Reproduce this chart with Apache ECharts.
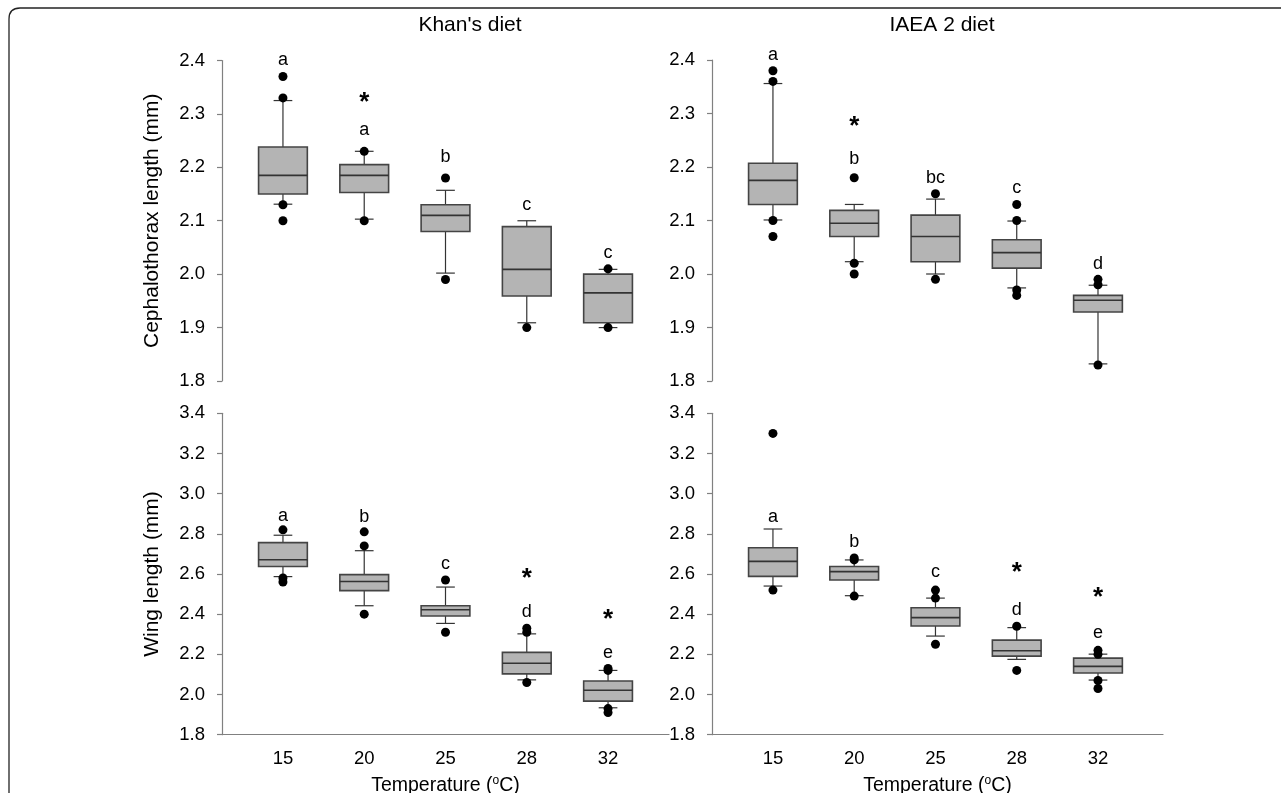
<!DOCTYPE html>
<html>
<head>
<meta charset="utf-8">
<script src="https://cdn.jsdelivr.net/npm/echarts@6/dist/echarts.min.js"></script>
<style>
html,body{margin:0;padding:0;background:#fff;}
#chart{width:1281px;height:793px;}
</style>
</head>
<body>
<div id="chart"></div>
<script>
// Temperature categories
const temps = ['15', '20', '25', '28', '32'];
const dietTitles = ["Khan's diet", 'IAEA 2 diet'];

// Box statistics: [low whisker, Q1, median, Q3, high whisker]
const khanCeph = [
  [2.131, 2.150, 2.185, 2.238, 2.325],
  [2.103, 2.153, 2.185, 2.205, 2.230],
  [2.002, 2.080, 2.110, 2.130, 2.157],
  [1.909, 1.959, 2.009, 2.089, 2.100],
  [1.900, 1.909, 1.965, 2.000, 2.009]
];
const khanCephOut = [[2.37, 2.33, 2.13, 2.10], [2.23, 2.10], [2.18, 1.99], [1.90], [2.01, 1.90]];
const khanCephLetters = ['a', 'a', 'b', 'c', 'c'];
const khanCephLetterY = [2.40, 2.27, 2.22, 2.13, 2.04];
const khanCephStarY = [null, 2.331, null, null, null];

const iaeaCeph = [
  [2.101, 2.130, 2.175, 2.207, 2.356],
  [2.023, 2.070, 2.095, 2.119, 2.130],
  [2.000, 2.023, 2.070, 2.110, 2.140],
  [1.974, 2.011, 2.040, 2.064, 2.099],
  [1.832, 1.929, 1.951, 1.960, 1.979]
];
const iaeaCephOut = [[2.38, 2.36, 2.10, 2.07], [2.18, 2.02, 2.00], [2.15, 1.99], [2.13, 2.10, 1.97, 1.96], [1.99, 1.98, 1.83]];
const iaeaCephLetters = ['a', 'b', 'bc', 'c', 'd'];
const iaeaCephLetterY = [2.41, 2.215, 2.18, 2.16, 2.018];
const iaeaCephStarY = [null, 2.284, null, null, null];

const khanWing = [
  [2.587, 2.637, 2.671, 2.756, 2.793],
  [2.442, 2.517, 2.563, 2.597, 2.716],
  [2.354, 2.391, 2.422, 2.442, 2.535],
  [2.073, 2.103, 2.156, 2.210, 2.302],
  [1.934, 1.967, 2.021, 2.067, 2.120]
];
const khanWingOut = [[2.82, 2.58, 2.56], [2.81, 2.74, 2.40], [2.57, 2.31], [2.33, 2.31, 2.06], [2.13, 2.12, 1.93, 1.91]];
const khanWingLetters = ['a', 'b', 'c', 'd', 'e'];
const khanWingLetterY = [2.89, 2.885, 2.648, 2.412, 2.208];
const khanWingStarY = [null, null, null, 2.603, 2.396];

const iaeaWing = [
  [2.540, 2.588, 2.663, 2.731, 2.824],
  [2.492, 2.570, 2.612, 2.637, 2.670],
  [2.291, 2.341, 2.383, 2.432, 2.480],
  [2.175, 2.191, 2.218, 2.271, 2.333],
  [2.072, 2.107, 2.140, 2.181, 2.201]
];
const iaeaWingOut = [[3.30, 2.52], [2.68, 2.67, 2.49], [2.52, 2.48, 2.25], [2.34, 2.12], [2.22, 2.20, 2.07, 2.03]];
const iaeaWingLetters = ['a', 'b', 'c', 'd', 'e'];
const iaeaWingLetterY = [2.885, 2.761, 2.61, 2.42, 2.304];
const iaeaWingStarY = [null, null, null, 2.631, 2.504];

// Y-axis tick ranges
const cephTicks = { min: 1.8, max: 2.4, step: 0.1 };
const wingTicks = { min: 1.8, max: 3.4, step: 0.2 };

const FONT = 'Liberation Sans, Arial, sans-serif';

const panels = [
  { box: khanCeph, out: khanCephOut, letters: khanCephLetters, letterY: khanCephLetterY, starY: khanCephStarY, ticks: cephTicks, name: 'Cephalothorax length (mm)', bottom: false, xmax: 4.75 },
  { box: iaeaCeph, out: iaeaCephOut, letters: iaeaCephLetters, letterY: iaeaCephLetterY, starY: iaeaCephStarY, ticks: cephTicks, name: '', bottom: false, xmax: 4.8 },
  { box: khanWing, out: khanWingOut, letters: khanWingLetters, letterY: khanWingLetterY, starY: khanWingStarY, ticks: wingTicks, name: 'Wing length (mm)', bottom: true, xmax: 4.75 },
  { box: iaeaWing, out: iaeaWingOut, letters: iaeaWingLetters, letterY: iaeaWingLetterY, starY: iaeaWingStarY, ticks: wingTicks, name: '', bottom: true, xmax: 4.8 }
];

const grids = [
  { left: 222, top: 60.5, width: 447, height: 320.5, outerBoundsMode: 'none', containLabel: false },
  { left: 712, top: 60, width: 451, height: 321, outerBoundsMode: 'none', containLabel: false },
  { left: 222, top: 413.3, width: 447, height: 321.4, outerBoundsMode: 'none', containLabel: false },
  { left: 712, top: 413.3, width: 451, height: 321.4, outerBoundsMode: 'none', containLabel: false }
];

function renderBox(params, api) {
  const x = api.value(0);
  const low = api.coord([x, api.value(1)]);
  const q1 = api.coord([x, api.value(2)]);
  const med = api.coord([x, api.value(3)]);
  const q3 = api.coord([x, api.value(4)]);
  const high = api.coord([x, api.value(5)]);
  const bw = api.size([0.6, 0])[0];
  const cw = api.size([0.23, 0])[0];
  const cx = low[0];
  const ls = { stroke: '#333', lineWidth: 1.2 };
  return {
    type: 'group',
    children: [
      { type: 'line', shape: { x1: cx, y1: q3[1], x2: cx, y2: high[1] }, style: ls },
      { type: 'line', shape: { x1: cx, y1: q1[1], x2: cx, y2: low[1] }, style: ls },
      { type: 'line', shape: { x1: cx - cw / 2, y1: high[1], x2: cx + cw / 2, y2: high[1] }, style: ls },
      { type: 'line', shape: { x1: cx - cw / 2, y1: low[1], x2: cx + cw / 2, y2: low[1] }, style: ls },
      { type: 'rect', shape: { x: cx - bw / 2, y: q3[1], width: bw, height: q1[1] - q3[1] },
        style: { fill: '#b4b4b4', stroke: '#444', lineWidth: 1.6 } },
      { type: 'line', shape: { x1: cx - bw / 2, y1: med[1], x2: cx + bw / 2, y2: med[1] },
        style: { stroke: '#333', lineWidth: 1.6 } }
    ]
  };
}

const xAxes = [], yAxes = [], series = [];
panels.forEach((p, i) => {
  xAxes.push({
    type: 'value', gridIndex: i, min: -0.75, max: p.xmax,
    show: p.bottom,
    axisLine: { show: true, onZero: false, lineStyle: { color: '#808080', width: 1.2 } },
    axisTick: { show: false },
    splitLine: { show: false },
    axisLabel: {
      show: true, customValues: [0, 1, 2, 3, 4],
      formatter: v => temps[Math.round(v)] || '',
      color: '#000', fontSize: 18.5, fontFamily: FONT, margin: 15
    },
    name: 'Temperature ({s|o}C)', nameLocation: 'middle', nameGap: 40,
    nameTextStyle: { color: '#000', fontSize: 19.5, fontFamily: FONT,
      rich: { s: { fontSize: 12, verticalAlign: 'top', padding: [0, 0, 10, 0], color: '#000', fontFamily: FONT } } }
  });
  yAxes.push({
    type: 'value', gridIndex: i, min: p.ticks.min, max: p.ticks.max, interval: p.ticks.step,
    axisLine: { show: true, onZero: false, lineStyle: { color: '#808080', width: 1.2 } },
    axisTick: { show: true, length: 5, lineStyle: { color: '#808080', width: 1.2 } },
    splitLine: { show: false },
    axisLabel: { color: '#000', fontSize: 18.5, fontFamily: FONT, margin: 17, formatter: v => v.toFixed(1) },
    name: p.name, nameLocation: 'middle', nameGap: 59,
    nameTextStyle: { color: '#000', fontSize: 21, fontFamily: FONT }
  });
  series.push({
    type: 'custom', xAxisIndex: i, yAxisIndex: i, renderItem: renderBox, clip: false,
    encode: { x: 0, y: [1, 2, 3, 4, 5] },
    data: p.box.map((b, k) => [k].concat(b)), silent: true
  });
  const outs = [];
  p.out.forEach((arr, k) => arr.forEach(v => outs.push([k, v])));
  series.push({
    type: 'scatter', xAxisIndex: i, yAxisIndex: i, symbol: 'circle', symbolSize: 9,
    itemStyle: { color: '#000', opacity: 1 }, data: outs, clip: false, silent: true, z: 5
  });
  series.push({
    type: 'scatter', xAxisIndex: i, yAxisIndex: i, symbolSize: 1, clip: false, silent: true,
    itemStyle: { color: 'rgba(0,0,0,0)', opacity: 1 },
    label: { show: true, position: 'inside', formatter: '{b}', color: '#000', opacity: 1, fontSize: 18, fontFamily: FONT },
    data: p.letters.map((t, k) => ({ name: t, value: [k, p.letterY[k]] }))
  });
  const stars = [];
  p.starY.forEach((v, k) => { if (v != null) stars.push({ name: '*', value: [k, v] }); });
  series.push({
    type: 'scatter', xAxisIndex: i, yAxisIndex: i, symbolSize: 1, clip: false, silent: true,
    itemStyle: { color: 'rgba(0,0,0,0)', opacity: 1 },
    label: { show: true, position: 'inside', formatter: '{b}', color: '#000', opacity: 1, fontSize: 26,
      fontWeight: 'bold', fontFamily: FONT, offset: [0, 5] },
    data: stars
  });
});

const chart = echarts.init(document.getElementById('chart'));
chart.setOption({
  animation: false,
  backgroundColor: '#fff',
  grid: grids,
  xAxis: xAxes,
  yAxis: yAxes,
  series: series,
  graphic: [
    { type: 'line', shape: { x1: 9, y1: 19, x2: 9, y2: 793 }, style: { stroke: '#222', lineWidth: 1.3 } },
    { type: 'line', shape: { x1: 20, y1: 8, x2: 1281, y2: 8 }, style: { stroke: '#222', lineWidth: 1.3 } },
    { type: 'bezierCurve', shape: { x1: 9, y1: 19, x2: 20, y2: 8, cpx1: 9, cpy1: 8 },
      style: { fill: 'none', stroke: '#222', lineWidth: 1.3 } },
    { type: 'text', x: 470, y: 25, style: { text: dietTitles[0], font: '21px ' + FONT, fill: '#000',
      align: 'center', verticalAlign: 'middle', textAlign: 'center', textVerticalAlign: 'middle' } },
    { type: 'text', x: 942, y: 25, style: { text: dietTitles[1], font: '21px ' + FONT, fill: '#000',
      align: 'center', verticalAlign: 'middle', textAlign: 'center', textVerticalAlign: 'middle' } }
  ]
});
</script>
</body>
</html>
